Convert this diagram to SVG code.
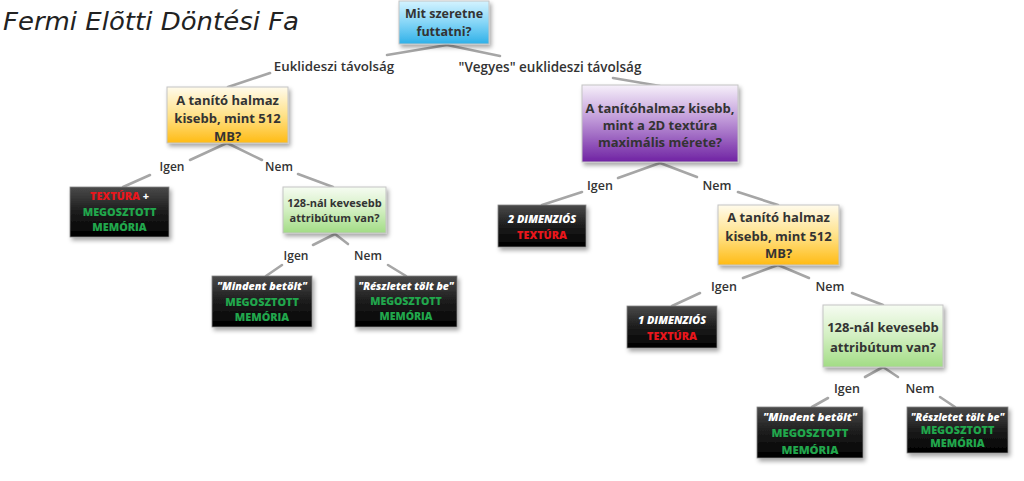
<svg xmlns="http://www.w3.org/2000/svg" width="1024" height="481" viewBox="0 0 1024 481">
<defs>
<linearGradient id="gBlue" x1="0" y1="0" x2="0" y2="1"><stop offset="0" stop-color="#d4f3ff"/><stop offset="0.5" stop-color="#86d6f7"/><stop offset="1" stop-color="#2fb0e8"/></linearGradient>
<linearGradient id="gOrange" x1="0" y1="0" x2="0" y2="1"><stop offset="0" stop-color="#fffbec"/><stop offset="0.5" stop-color="#ffe28a"/><stop offset="1" stop-color="#ffbb14"/></linearGradient>
<linearGradient id="gPurple" x1="0" y1="0" x2="0" y2="1"><stop offset="0" stop-color="#f6f0fa"/><stop offset="0.45" stop-color="#bf98d8"/><stop offset="1" stop-color="#6f22a3"/></linearGradient>
<linearGradient id="gGreen" x1="0" y1="0" x2="0" y2="1"><stop offset="0" stop-color="#f6fcf2"/><stop offset="0.5" stop-color="#d2efc1"/><stop offset="1" stop-color="#a2dc85"/></linearGradient>
<linearGradient id="gBlack" x1="0" y1="0" x2="0" y2="1"><stop offset="0" stop-color="#4a4a4a"/><stop offset="0.5" stop-color="#1c1c1c"/><stop offset="1" stop-color="#000"/></linearGradient>
<filter id="sh" x="-10%" y="-10%" width="130%" height="140%"><feDropShadow dx="2" dy="3" stdDeviation="2" flood-color="#000" flood-opacity="0.35"/></filter>
</defs>
<style>
.q{stroke:#c4c4c4;stroke-width:1;filter:url(#sh)}
.b{stroke:#888;stroke-width:0.8;filter:url(#sh)}
.qt{font-family:"Open Sans","DejaVu Sans",sans-serif;font-weight:700;fill:#333;text-anchor:middle}
.lb{font-family:"Open Sans","DejaVu Sans",sans-serif;font-weight:600;fill:#333;text-anchor:middle}
.bt{font-family:"Open Sans","DejaVu Sans",sans-serif;font-weight:800;text-anchor:middle}
.w{fill:#fff;font-style:italic}
.r{fill:#e8161c}
.g{fill:#21a74c}
.c line{stroke:#a6a6a6;stroke-width:2.6;stroke-linecap:round}
</style>
<rect width="1024" height="481" fill="#fff"/>
<text x="3" y="30" font-family="DejaVu Sans, sans-serif" font-style="italic" font-size="25" fill="#222" textLength="296" lengthAdjust="spacingAndGlyphs">Fermi Elõtti Döntési Fa</text>
<g id="connectors" class="c">
<line x1="447" y1="45" x2="387" y2="55"/><line x1="270" y1="73" x2="228" y2="87"/>
<line x1="447" y1="45" x2="500" y2="56"/><line x1="613" y1="78" x2="660" y2="86"/>
<line x1="227" y1="143" x2="190" y2="160"/><line x1="150" y1="175" x2="123" y2="187"/>
<line x1="227" y1="143" x2="262" y2="160"/><line x1="298" y1="174" x2="333" y2="187"/>
<line x1="335" y1="234" x2="313" y2="245"/><line x1="282" y1="265" x2="266" y2="276"/>
<line x1="335" y1="234" x2="348" y2="244"/><line x1="388" y1="265" x2="406" y2="276"/>
<line x1="660" y1="163" x2="618" y2="178"/><line x1="582" y1="192" x2="542" y2="205"/>
<line x1="660" y1="163" x2="697" y2="177"/><line x1="738" y1="192" x2="778" y2="205"/>
<line x1="778" y1="265" x2="743" y2="278"/><line x1="700" y1="293" x2="672" y2="306"/>
<line x1="778" y1="265" x2="809" y2="278"/><line x1="852" y1="293" x2="883" y2="305"/>
<line x1="883" y1="367" x2="865" y2="377"/><line x1="828" y1="398" x2="812" y2="407"/>
<line x1="883" y1="367" x2="898" y2="377"/><line x1="940" y1="397" x2="955" y2="407"/>
</g>
<g id="labels">
<text class="lb" x="334" y="71" font-size="13.3">Euklideszi távolság</text>
<text class="lb" x="550" y="72" font-size="13.5">"Vegyes" euklideszi távolság</text>
<text class="lb" x="172" y="171" font-size="12">Igen</text>
<text class="lb" x="279" y="171" font-size="12">Nem</text>
<text class="lb" x="296" y="260" font-size="12">Igen</text>
<text class="lb" x="368" y="260" font-size="12">Nem</text>
<text class="lb" x="600" y="190" font-size="12.5">Igen</text>
<text class="lb" x="717" y="190" font-size="12.5">Nem</text>
<text class="lb" x="724" y="291" font-size="12.5">Igen</text>
<text class="lb" x="830" y="291" font-size="12.5">Nem</text>
<text class="lb" x="847" y="393" font-size="12.5">Igen</text>
<text class="lb" x="920" y="393" font-size="12.5">Nem</text>
</g>
<g id="root"><rect class="q" x="399" y="1" width="90" height="43" fill="url(#gBlue)"/>
<text class="qt" font-size="12.5"><tspan x="444" y="18">Mit szeretne</tspan><tspan x="444" y="36">futtatni?</tspan></text></g>
<g id="n-meret-l"><rect class="q" x="167" y="87" width="121" height="56" fill="url(#gOrange)"/>
<text class="qt" font-size="13"><tspan x="227.5" y="105">A tanító halmaz</tspan><tspan x="227.5" y="123">kisebb, mint 512</tspan><tspan x="227.5" y="141">MB?</tspan></text></g>
<g id="n-textura-megosztott"><rect class="b" x="70" y="187" width="99" height="50" fill="url(#gBlack)"/>
<text class="bt" font-size="10.8"><tspan x="119.5" y="200"><tspan class="r">TEXTÚRA</tspan><tspan fill="#fff"> +</tspan></tspan><tspan class="g" x="119.5" y="216">MEGOSZTOTT</tspan><tspan class="g" x="119.5" y="231">MEMÓRIA</tspan></text></g>
<g id="n-attr-l"><rect class="q" x="283" y="187" width="103" height="46" fill="url(#gGreen)"/>
<text class="qt" font-size="11" font-weight="600"><tspan x="334.5" y="207">128-nál kevesebb</tspan><tspan x="334.5" y="222">attribútum van?</tspan></text></g>
<g id="n-mindent-l"><rect class="b" x="212" y="276" width="100" height="51" fill="url(#gBlack)"/>
<text class="bt" font-size="10.8"><tspan class="w" x="262" y="290">"Mindent betölt"</tspan><tspan class="g" x="262" y="306">MEGOSZTOTT</tspan><tspan class="g" x="262" y="321">MEMÓRIA</tspan></text></g>
<g id="n-reszlet-l"><rect class="b" x="355" y="276" width="102" height="51" fill="url(#gBlack)"/>
<text class="bt" font-size="10.5"><tspan class="w" x="406" y="290">"Részletet tölt be"</tspan><tspan class="g" x="406" y="305">MEGOSZTOTT</tspan><tspan class="g" x="406" y="320">MEMÓRIA</tspan></text></g>
<g id="n-2d"><rect class="q" x="582" y="85" width="156" height="77" fill="url(#gPurple)"/>
<text class="qt" font-size="13"><tspan x="660" y="113">A tanítóhalmaz kisebb,</tspan><tspan x="660" y="130">mint a 2D textúra</tspan><tspan x="660" y="147">maximális mérete?</tspan></text></g>
<g id="n-2dim"><rect class="b" x="498" y="205" width="88" height="42" fill="url(#gBlack)"/>
<text class="bt" font-size="10.8"><tspan class="w" x="542" y="223">2 DIMENZIÓS</tspan><tspan class="r" x="542" y="239">TEXTÚRA</tspan></text></g>
<g id="n-meret-r"><rect class="q" x="718" y="205" width="121" height="60" fill="url(#gOrange)"/>
<text class="qt" font-size="13"><tspan x="778.5" y="222">A tanító halmaz</tspan><tspan x="778.5" y="241">kisebb, mint 512</tspan><tspan x="778.5" y="258">MB?</tspan></text></g>
<g id="n-1dim"><rect class="b" x="627" y="306" width="90" height="42" fill="url(#gBlack)"/>
<text class="bt" font-size="10.8"><tspan class="w" x="672" y="324">1 DIMENZIÓS</tspan><tspan class="r" x="672" y="340">TEXTÚRA</tspan></text></g>
<g id="n-attr-r"><rect class="q" x="823" y="305" width="120" height="62" fill="url(#gGreen)"/>
<text class="qt" font-size="13"><tspan x="883" y="332">128-nál kevesebb</tspan><tspan x="883" y="352">attribútum van?</tspan></text></g>
<g id="n-mindent-r"><rect class="b" x="757" y="407" width="106" height="51" fill="url(#gBlack)"/>
<text class="bt" font-size="11.3"><tspan class="w" x="810" y="421">"Mindent betölt"</tspan><tspan class="g" x="810" y="437">MEGOSZTOTT</tspan><tspan class="g" x="810" y="454">MEMÓRIA</tspan></text></g>
<g id="n-reszlet-r"><rect class="b" x="907" y="407" width="101" height="46" fill="url(#gBlack)"/>
<text class="bt" font-size="10.3"><tspan class="w" x="957.5" y="421">"Részletet tölt be"</tspan><tspan class="g" x="957.5" y="434" font-size="10.8">MEGOSZTOTT</tspan><tspan class="g" x="957.5" y="447" font-size="10.8">MEMÓRIA</tspan></text></g>
</svg>
